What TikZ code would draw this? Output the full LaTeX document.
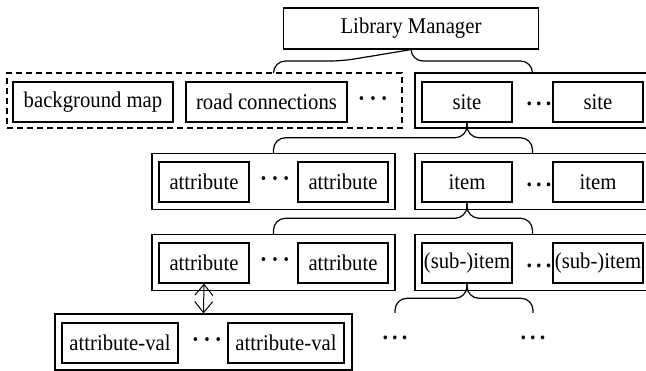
\documentclass[tikz,border=0pt]{standalone}
\usepackage{fontspec}
\setmainfont{Liberation Serif}[FakeStretch=0.92]
\usetikzlibrary{arrows.meta, calc}

\tikzset{
  box/.style={draw, line width=1.2pt, minimum width=90pt, minimum height=40pt,
    inner sep=1pt, font=\fontsize{22.5}{26}\selectfont},
  grp/.style={draw, line width=1.2pt, minimum height=56pt},
  dots/.style={inner sep=0pt, font=\fontsize{24}{26}\selectfont\bfseries},
  brace/.style={line width=1.2pt, rounded corners=12pt},
  link/.style={line width=1pt, {Straight Barb[length=11pt,width=18pt]}-{Straight Barb[length=11pt,width=18pt]}},
}

% curly brace from a parent (tip) down to two children (ends)
\newcommand{\treebrace}[3]{%
  \draw[brace] (#2) |- ($(#1)!.5!(#1 |- #2)$) -- (#1);
  \draw[brace] (#3) |- ($(#1)!.5!(#1 |- #3)$) -- (#1);
}

\begin{document}
\begin{tikzpicture}[x=1pt, y=-1pt]
    % page frame, same size as the reference
    \useasboundingbox (0,0) rectangle (646,371);

    % top level
    \node[box, minimum width=255pt, minimum height=41pt] (lib) at (411,28.5) {Library Manager};

    % first row: shared data (dashed) and the sites
    \node[grp, dashed, dash pattern=on 6pt off 4pt, minimum width=395pt, minimum height=55pt] (shared) at (204.5,100.5) {};
    \node[box, minimum width=160pt] (bgmap) at (93,102) {background map};
    \node[box, minimum width=161pt] (roads) at (266.5,102) {road connections};
    \node[dots] (shdots) at (373,102) {·\,·\,·};

    \node[grp, minimum width=235pt, minimum height=55pt] (sites) at (532.5,100.5) {};
    \node[box] (site1) at (467,102) {site};
    \node[dots] (sitedots) at (539,104) {.\,.\,.};
    \node[box] (site2) at (598,102) {site};

    % second row: attributes and items of a site
    \node[grp, minimum width=243pt] (attrs) at (273.5,181.5) {};
    \node[box] (attr1) at (204,182) {attribute};
    \node[dots] (attrdots) at (275,182) {·\,·\,·};
    \node[box] (attr2) at (343,182) {attribute};

    \node[grp, minimum width=235pt] (items) at (532.5,181.5) {};
    \node[box] (item1) at (467,182) {item};
    \node[dots] (itemdots) at (539,185) {.\,.\,.};
    \node[box] (item2) at (598,182) {item};

    % third row: attributes and sub-items of an item
    \node[grp, minimum width=243pt] (subattrs) at (273.5,262.5) {};
    \node[box] (attr3) at (204,263) {attribute};
    \node[dots] (subattrdots) at (275,263) {·\,·\,·};
    \node[box] (attr4) at (343,263) {attribute};

    \node[grp, minimum width=235pt] (subitems) at (532.5,262.5) {};
    \node[box] (sub1) at (467,263) {(sub-)item};
    \node[dots] (subdots) at (539,266) {.\,.\,.};
    \node[box] (sub2) at (598,263) {(sub-)item};

    % fourth row: attribute values
    \node[grp, minimum width=297pt] (vals) at (203.5,342) {};
    \node[box, minimum width=116pt] (val1) at (120,343) {attribute-val};
    \node[dots] (valdots) at (207,343) {·\,·\,·};
    \node[box, minimum width=116pt] (val2) at (286,343) {attribute-val};

    % open ends below the sub-item
    \coordinate (subl) at (395,313);
    \coordinate (subr) at (533,313);
    \node[dots] (moreleft) at (395,338) {.\,.\,.};
    \node[dots] (moreright) at (533,338) {.\,.\,.};

    % braces
    \treebrace{lib.south}{shared.north -| attrs.north}{sites.north}
    \treebrace{site1.south}{attrs.north}{items.north}
    \treebrace{item1.south}{subattrs.north}{subitems.north}
    \treebrace{sub1.south}{subl}{subr}

    % attribute <-> value
    \draw[link] (attr3.south) -- (vals.north);
\end{tikzpicture}
\end{document}
